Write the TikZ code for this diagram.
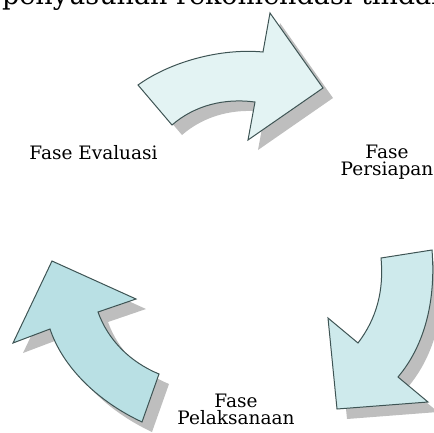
\documentclass[tikz,border=0pt]{standalone}
\usepackage{fontspec}
\setmainfont{DejaVu Serif}
\definecolor{arrowedge}{RGB}{62,84,84}
\definecolor{topfill}{RGB}{227,243,243}
\definecolor{rightfill}{RGB}{206,234,236}
\definecolor{leftfill}{RGB}{185,224,228}
\definecolor{shadowgray}{RGB}{190,190,190}
\tikzset{
  shadowshape/.style={fill=shadowgray, draw=none, shift={(10,10)}},
  arrowshape/.style={draw=arrowedge, line width=1pt, line join=miter},
  labeltext/.style={font=\fontsize{18.5}{17}\selectfont, inner sep=0pt, align=center, text=black},
}
\newcommand\toparrowpath{(138,85) .. controls (170,62) and (220,48) .. (263,52) -- (270,13) -- (323,88) -- (248,140) -- (255,102) .. controls (225,98) and (195,105) .. (172,125) -- cycle}
\newcommand\rightarrowpath{(381,258) -- (432,250) .. controls (436,300) and (425,345) .. (398,377) -- (428,402) -- (337,409) -- (328,318) -- (358,343) .. controls (377,318) and (384,290) .. (381,258) -- cycle}
\newcommand\leftarrowpath{(52,261) -- (136,299) -- (98,312) .. controls (108,340) and (130,362) .. (159,374) -- (142,422) .. controls (95,400) and (62,365) .. (50,329) -- (13,343) -- cycle}
\begin{document}
\begin{tikzpicture}[x=1pt,y=-1pt]
\useasboundingbox (0,0) rectangle (434,432);
\clip (0,0) rectangle (434,432);
% partial line of body text cut by the top edge
\node (bodyline) [anchor=base west, inner sep=0pt, font=\fontsize{27}{30}\selectfont] at (2,4.5) {penyusunan rekomendasi tindak lanjut};
% shadows
\path[shadowshape] \toparrowpath;
\path[shadowshape] \rightarrowpath;
\path[shadowshape] \leftarrowpath;
% arrows
\path[arrowshape, fill=topfill] \toparrowpath;
\path[arrowshape, fill=rightfill] \rightarrowpath;
\path[arrowshape, fill=leftfill] \leftarrowpath;
% labels
\node (evaluasi) [labeltext, anchor=base] at (93.5,159) {Fase Evaluasi};
\node (persiapan) [labeltext, anchor=base] at (387,175) {Fase\\Persiapan};
\node (pelaksanaan) [labeltext, anchor=base] at (236,424) {Fase\\Pelaksanaan};
\end{tikzpicture}
\end{document}
